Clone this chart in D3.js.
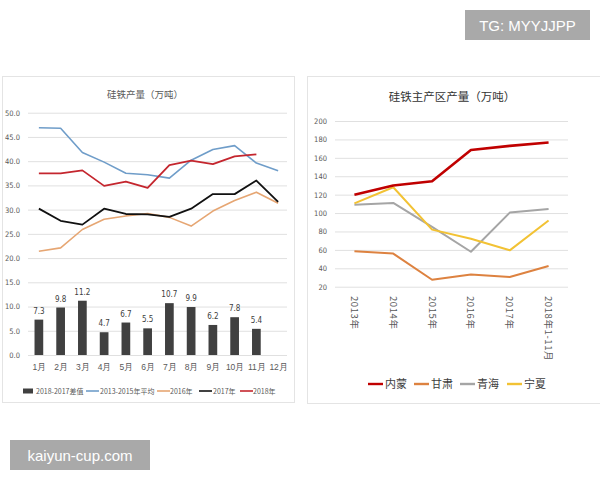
<!DOCTYPE html>
<html><head><meta charset="utf-8">
<script src="https://cdn.jsdelivr.net/npm/d3@7"></script>
<style>
html,body{margin:0;padding:0;background:#fff;}
svg{display:block;font-family:"Noto Sans CJK SC","Noto Sans",sans-serif;}
</style></head>
<body><svg id="c" width="600" height="480"></svg>
<script>
// ---- Left chart data ----
const months = ["1月","2月","3月","4月","5月","6月","7月","8月","9月","10月","11月","12月"];
const diff2018_2017 = [7.3, 9.8, 11.2, 4.7, 6.7, 5.5, 10.7, 9.9, 6.2, 7.8, 5.4, null];
const avg2013_2015 = [46.9, 46.8, 41.8, 39.8, 37.5, 37.2, 36.5, 40.2, 42.4, 43.2, 39.6, 38.0];
const y2016 = [21.4, 22.1, 25.9, 28.0, 28.7, 29.2, 28.4, 26.6, 29.7, 31.9, 33.6, 31.3];
const y2017 = [30.2, 27.7, 26.9, 30.2, 29.1, 29.0, 28.5, 30.2, 33.2, 33.2, 36.0, 31.6];
const y2018 = [37.5, 37.5, 38.1, 34.9, 35.8, 34.5, 39.2, 40.1, 39.4, 41.0, 41.4, null];
const leftTicks = [0, 5, 10, 15, 20, 25, 30, 35, 40, 45, 50];

// ---- Right chart data ----
const years = ["2013年","2014年","2015年","2016年","2017年","2018年1-11月"];
const neimeng = [120, 130, 134.5, 168.5, 173, 176.7];
const gansu = [58.5, 56, 27.5, 33.2, 30.5, 42.5];
const qinghai = [109, 111, 85, 58, 100.5, 104.5];
const ningxia = [110.5, 128, 82, 72, 59.5, 92];
const rightTicks = [20, 40, 60, 80, 100, 120, 140, 160, 180, 200];

const svg = d3.select("#c");

// panels
svg.append("rect").attr("x",2.5).attr("y",76.5).attr("width",292).attr("height",326)
  .attr("fill","#fff").attr("stroke","#e4e4e4");
svg.append("rect").attr("x",307.5).attr("y",76.5).attr("width",300).attr("height",327)
  .attr("fill","#fff").attr("stroke","#e4e4e4");

// ===== Left chart =====
const xL = d3.scalePoint().domain(months).range([28, 289]).padding(0.5);
const yL = d3.scaleLinear().domain([0, 50]).range([355, 112.7]);
const gL = svg.append("g");

gL.append("text").attr("x",145).attr("y",97.5).attr("text-anchor","middle")
  .attr("font-size",9.5).attr("fill","#595959").text("硅铁产量（万吨）");

const axL = d3.axisLeft(yL).tickValues(leftTicks).tickFormat(d3.format(".1f"))
  .tickSize(-(287-28)).tickPadding(8);
const axLg = gL.append("g").attr("transform","translate(28,0)").call(axL);
axLg.select(".domain").remove();
axLg.selectAll(".tick line").attr("stroke","#e0e0e0");
axLg.selectAll(".tick text").attr("x",-8).attr("font-size",7.5).attr("fill","#595959")
  .attr("text-anchor","end").style("font-family","'Liberation Sans Narrow','DejaVu Sans Condensed',sans-serif");

const axLx = d3.axisBottom(xL).tickSize(0).tickPadding(9);
const axLxg = gL.append("g").attr("transform","translate(0,355)").call(axLx);
axLxg.select(".domain").remove();
axLxg.selectAll(".tick text").attr("font-size",8.5).attr("fill","#595959");

const bw = xL.step()*0.4;
const barData = months.map((m,i)=>({m, v: diff2018_2017[i]})).filter(d=>d.v!=null);
gL.selectAll(".bar").data(barData).join("rect")
  .attr("x",d=>xL(d.m)-bw/2).attr("width",bw)
  .attr("y",d=>yL(d.v)).attr("height",d=>yL(0)-yL(d.v))
  .attr("fill","#404040");
gL.selectAll(".blab").data(barData).join("text")
  .attr("x",d=>xL(d.m)).attr("y",d=>yL(d.v)-6).attr("text-anchor","middle")
  .attr("font-size",8).attr("fill","#404040")
  .style("font-family","'Liberation Sans Narrow','DejaVu Sans Condensed',sans-serif")
  .text(d=>d.v.toFixed(1));

const lineL = d3.line().defined(d=>d.v!=null).x(d=>xL(d.m)).y(d=>yL(d.v));
const leftSeries = [
  {name:"2013-2015年平均", vals:avg2013_2015, color:"#6f9dc9", w:1.6},
  {name:"2016年", vals:y2016, color:"#e6a673", w:1.6},
  {name:"2017年", vals:y2017, color:"#111111", w:1.8},
  {name:"2018年", vals:y2018, color:"#c4262e", w:1.8}
];
leftSeries.forEach(s=>{
  gL.append("path").datum(months.map((m,i)=>({m, v:s.vals[i]})))
    .attr("d",lineL).attr("fill","none").attr("stroke",s.color)
    .attr("stroke-width",s.w).attr("stroke-linejoin","round");
});

// left legend
const legL = gL.append("g").attr("font-size",7).attr("fill","#595959");
legL.append("rect").attr("x",23).attr("y",388.5).attr("width",10).attr("height",5).attr("fill","#404040");
legL.append("text").attr("x",36).attr("y",393.5).text("2018-2017差值");
const legItems = [
  {x:86, tx:100},{x:157, tx:170},{x:199, tx:213},{x:240, tx:253}
];
leftSeries.forEach((s,i)=>{
  legL.append("line").attr("x1",legItems[i].x).attr("x2",legItems[i].x+13)
    .attr("y1",391).attr("y2",391).attr("stroke",s.color).attr("stroke-width",1.6);
  legL.append("text").attr("x",legItems[i].tx).attr("y",393.5).text(s.name);
});

// ===== Right chart =====
const xR = d3.scalePoint().domain(years).range([335, 568]).padding(0.5);
const yR = d3.scaleLinear().domain([20, 200]).range([286.7, 121]);
const gR = svg.append("g");

gR.append("text").attr("x",452).attr("y",101).attr("text-anchor","middle")
  .attr("font-size",11.5).attr("fill","#333").text("硅铁主产区产量（万吨）");

const axR = d3.axisLeft(yR).tickValues(rightTicks).tickSize(-(568-335)).tickPadding(8);
const axRg = gR.append("g").attr("transform","translate(335,0)").call(axR);
axRg.select(".domain").remove();
axRg.selectAll(".tick line").attr("stroke","#e0e0e0");
axRg.selectAll(".tick text").attr("x",-8).attr("font-size",7.5).attr("fill","#595959")
  .style("font-family","'Liberation Sans Narrow','DejaVu Sans Condensed',sans-serif");

// rotated x labels
gR.selectAll(".xl").data(years).join("text")
  .attr("transform",d=>`translate(${xR(d)-3.5},296) rotate(90)`)
  .attr("font-size",9.5).attr("fill","#595959").attr("text-anchor","start")
  .attr("letter-spacing",0.6)
  .text(d=>d);

const lineR = d3.line().x((d,i)=>xR(years[i])).y(d=>yR(d));
const rightSeries = [
  {name:"甘肃", vals:gansu, color:"#dd8240", w:2},
  {name:"青海", vals:qinghai, color:"#a5a5a5", w:2},
  {name:"宁夏", vals:ningxia, color:"#f2c234", w:2},
  {name:"内蒙", vals:neimeng, color:"#c00000", w:2.6}
];
rightSeries.forEach(s=>{
  gR.append("path").datum(s.vals).attr("d",lineR).attr("fill","none")
    .attr("stroke",s.color).attr("stroke-width",s.w).attr("stroke-linejoin","round");
});

// right legend
const legOrder = ["内蒙","甘肃","青海","宁夏"];
const legX = [368, 414, 460, 507];
const legR = gR.append("g").attr("font-size",11).attr("fill","#404040");
legOrder.forEach((n,i)=>{
  const s = rightSeries.find(r=>r.name===n);
  legR.append("line").attr("x1",legX[i]).attr("x2",legX[i]+15).attr("y1",384).attr("y2",384)
    .attr("stroke",s.color).attr("stroke-width",2.4);
  legR.append("text").attr("x",legX[i]+17).attr("y",388).text(n);
});

// ===== watermarks =====
svg.append("rect").attr("x",465).attr("y",10).attr("width",125).attr("height",30).attr("fill","#a9a9a9");
svg.append("text").attr("x",527.5).attr("y",31).attr("text-anchor","middle").attr("font-size",15)
  .attr("fill","#fff").style("font-family","'Liberation Sans',Arial,sans-serif").text("TG: MYYJJPP");
svg.append("rect").attr("x",10).attr("y",440).attr("width",140).attr("height",30).attr("fill","#a9a9a9");
svg.append("text").attr("x",80).attr("y",461).attr("text-anchor","middle").attr("font-size",15)
  .attr("fill","#fff").style("font-family","'Liberation Sans',Arial,sans-serif").text("kaiyun-cup.com");
</script></body></html>
